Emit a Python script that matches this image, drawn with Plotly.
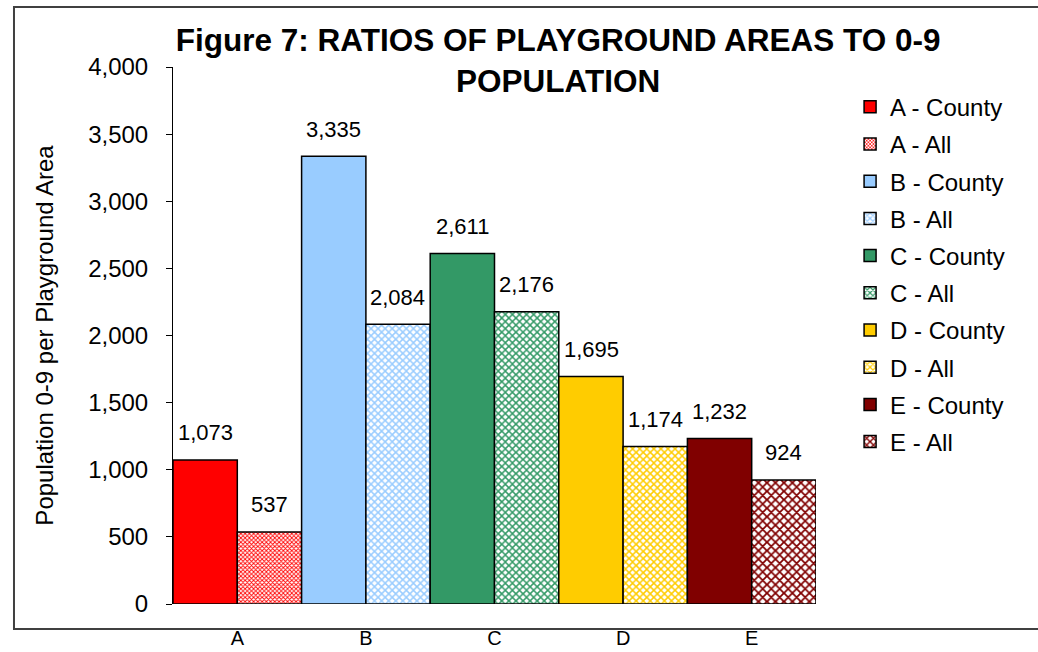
import plotly.graph_objects as go

# Chart data
categories = ['A', 'B', 'C', 'D', 'E']
county_vals = [1073, 3335, 2611, 1695, 1232]
all_vals = [537, 2084, 2176, 1174, 924]
colors = ['#FF0000', '#99CCFF', '#339966', '#FFCC00', '#800000']
pattern_sizes = [3, 5, 5, 5, 6]
y_ticks = [0, 500, 1000, 1500, 2000, 2500, 3000, 3500, 4000]

font_family = 'Arial, Liberation Sans, sans-serif'

fig = go.Figure()

for i, cat in enumerate(categories):
    # solid county bar, left half of the category slot
    fig.add_trace(go.Bar(
        x=[cat], y=[county_vals[i]], name=cat + ' - County',
        offset=-0.5, width=0.5, legendgroup='g%dc' % i,
        marker=dict(color=colors[i], line=dict(color='black', width=1.5)),
        hoverinfo='name+y'))
    # checkered "all" bar, right half
    fig.add_trace(go.Bar(
        x=[cat], y=[all_vals[i]], name=cat + ' - All',
        offset=0, width=0.5, legendgroup='g%da' % i,
        marker=dict(color='white', line=dict(color='black', width=1.5),
                    pattern=dict(shape='x', fgcolor=colors[i], bgcolor='white',
                                 size=pattern_sizes[i], solidity=0.5, fillmode='replace')),
        hoverinfo='name+y'))

# value labels above each bar
for i, cat in enumerate(categories):
    for val, shift in ((county_vals[i], -32), (all_vals[i], 32)):
        fig.add_annotation(x=cat, y=val, xref='x', yref='y', text=f'{val:,}',
                           showarrow=False, xshift=shift, yshift=27,
                           font=dict(size=22, color='black', family=font_family))

# outer chart frame
fig.add_shape(type='rect', xref='paper', yref='paper',
              x0=-0.2473, x1=1.36, y0=-0.0466, y1=1.1117,
              line=dict(color='#404040', width=2), layer='below')

fig.update_layout(
    width=1038, height=652,
    barmode='overlay',
    paper_bgcolor='white', plot_bgcolor='white',
    font=dict(family=font_family, color='black'),
    margin=dict(l=173, r=222, t=67, b=48),
    title=dict(text='<b>Figure 7: RATIOS OF PLAYGROUND AREAS TO 0-9<br>POPULATION</b>',
               x=0.599, xref='paper', xanchor='center',
               y=0.922, yref='container', yanchor='top',
               font=dict(size=31.5, family=font_family, color='black')),
    legend=dict(x=1.053, y=0.967, xanchor='left', yanchor='top',
                font=dict(size=24, family=font_family, color='black'),
                tracegroupgap=3, bgcolor='rgba(0,0,0,0)'),
    showlegend=True,
)

fig.update_xaxes(showline=False, showgrid=False, ticks='', automargin=False,
                 range=[-0.5, 4.5], ticklabelstandoff=20,
                 tickfont=dict(size=20, family=font_family, color='black'))
fig.update_yaxes(range=[0, 4000], tickvals=y_ticks, tickformat=',', automargin=False,
                 showline=True, linecolor='black', linewidth=1,
                 ticks='outside', ticklen=6, tickcolor='black',
                 showgrid=False, zeroline=False, ticklabelstandoff=13,
                 tickfont=dict(size=24, family=font_family, color='black'),
                 title=dict(text='Population 0-9 per Playground Area', standoff=27,
                            font=dict(size=24, family=font_family, color='black')))

# drop the default page margin so the figure sits at the window's top-left corner
fig.write_html('out.html', config={'displayModeBar': False},
               post_script="document.body.style.margin='0';")
